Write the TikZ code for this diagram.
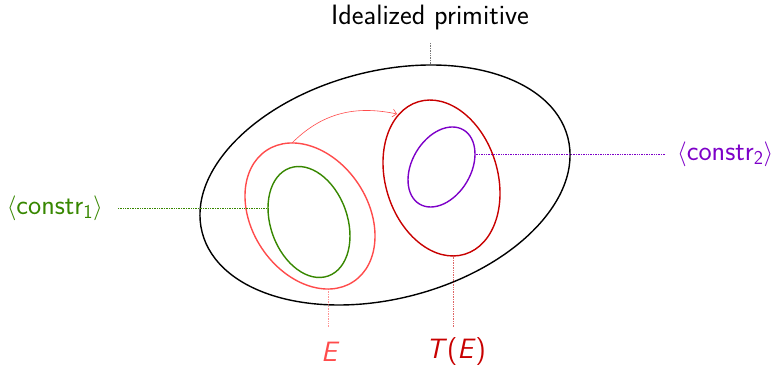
\documentclass[tikz,border=0pt]{standalone}
\usepackage{fontspec}
\usetikzlibrary{shapes.geometric,arrows.meta}
\definecolor{cgreen}{RGB}{55,135,0}
\definecolor{cpink}{RGB}{255,75,75}
\definecolor{cdred}{RGB}{200,0,0}
\definecolor{cpurple}{RGB}{125,0,200}
\definecolor{cgray}{RGB}{120,120,120}
\begin{document}
\begin{tikzpicture}[x=1pt,y=1pt,
  ell/.style={ellipse, draw, line width=1.4pt, inner sep=0pt, outer sep=0pt},
  lead/.style={densely dotted, line width=0.7pt},
  lab/.style={font=\fontsize{28}{32}\selectfont\sffamily, inner sep=0pt}]
\useasboundingbox (0,0) rectangle (774,366);
% ellipses
\node[ell, black, minimum width=377.8pt, minimum height=227.6pt, rotate=14.6] (prim) at (385,181) {};
\node[ell, cpink, minimum width=157.4pt, minimum height=116pt, rotate=-56.5] (E) at (310,150) {};
\node[ell, cgreen, minimum width=114.6pt, minimum height=76.8pt, rotate=-70.3] (c1) at (309,144) {};
\node[ell, cdred, minimum width=159.4pt, minimum height=112.2pt, rotate=-73] (TE) at (441.5,188) {};
\node[ell, cpurple, minimum width=86.2pt, minimum height=58.8pt, rotate=59.4] (c2) at (441.5,199) {};
% contact points
\coordinate (greenL) at (268,158);
\coordinate (purpleR) at (475,212);
\coordinate (pinkB) at (328,77);
\coordinate (pinkT) at (292,223);
\coordinate (redB) at (453,110);
\coordinate (blackT) at (430,301);
\coordinate (arrEnd) at (397,252);
% labels
\node[lab, cgreen, anchor=east] (l1) at (103,158) {$\langle$constr$_{\mathsf{1}}\rangle$};
\node[lab, cpurple, anchor=west] (l2) at (677,212) {$\langle$constr$_{\mathsf{2}}\rangle$};
\node[lab, black] (lp) at (430,348) {Idealized primitive};
\node[lab, cpink] (lE) at (329,14) {\itshape E};
\node[lab, cdred] (lT) at (456,14) {{\itshape T\/}({\itshape E\/})};
% leaders
\draw[lead, cgreen] ([xshift=15pt]l1.east) -- (greenL);
\draw[lead, cpurple] ([xshift=-12pt]l2.west) -- (purpleR);
\draw[lead, cgray] (430,323) -- (blackT);
\draw[lead, cpink, opacity=0.6] (328,39) -- (pinkB);
\draw[lead, cdred, opacity=0.6] (453,39) -- (redB);
% arrow
\draw[cpink, line width=0.6pt, -{Straight Barb[length=4pt,width=8pt]}] (pinkT) to[out=45, in=168] (arrEnd);
\end{tikzpicture}
\end{document}
